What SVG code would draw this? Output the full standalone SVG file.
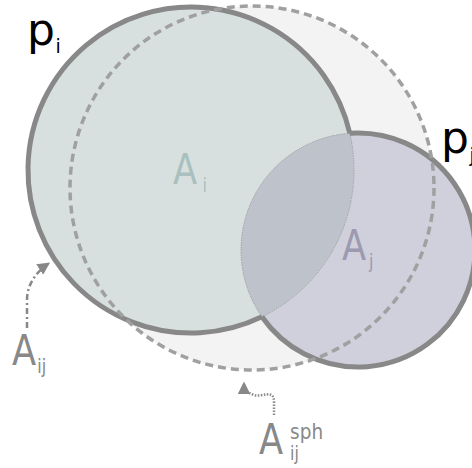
<svg xmlns="http://www.w3.org/2000/svg" width="472" height="468" viewBox="0 0 472 468">
<defs>
<style>
.edge{fill:none;stroke:#888;stroke-width:5}
.lbl{font-family:"DejaVu Sans",sans-serif}
.big{font-size:42px}
.sub{font-size:19px}
.sup{font-size:22px}
.conn{fill:none;stroke:#888;stroke-width:2.5}
</style>
<marker id="ah" viewBox="0 0 10 10" refX="8" refY="5" markerWidth="5" markerHeight="5" orient="auto" markerUnits="strokeWidth">
<path d="M0,0 L10,5 L0,10 z" fill="#888"/>
</marker>
</defs>
<rect width="472" height="468" fill="#fff"/>
<g id="sphere-fill">
<circle cx="252" cy="188" r="182" fill="#f3f3f3"/>
</g>
<g id="node-pi">
<circle cx="191" cy="170" r="163" fill="#d8e0df"/>
</g>
<g id="node-pj">
<circle cx="358" cy="250" r="117" fill="#d0d0dc"/>
</g>
<g id="lens">
<path d="M349.8,133.3 A117,117 0 0 0 261.9,316.8 A163,163 0 0 0 349.8,133.3 Z" fill="#bec2cb" stroke="#999" stroke-width="0.8" stroke-dasharray="1.5,1"/>
</g>
<g id="node-pi-edge">
<path class="edge" d="M349.8,133.3 A163,163 0 1 0 261.9,316.8"/>
</g>
<g id="node-pj-edge">
<path class="edge" d="M349.8,133.3 A117,117 0 1 1 261.9,316.8"/>
</g>
<g id="sphere">
<circle cx="252" cy="188" r="182" fill="none" stroke="#a0a0a0" stroke-width="3.5" stroke-dasharray="8,5"/>
</g>
<g id="connectors">
<path class="conn" d="M27,328 L27,300 C27,285 36,272 48,264" stroke-dasharray="6,3,2,3" marker-end="url(#ah)"/>
<path class="conn" d="M274,415 L274,402 C274,388 262,398 254,395 C246,392 244,390 244,384" stroke-dasharray="1.5,1.5" marker-end="url(#ah)"/>
</g>
<g id="label-pi" class="lbl">
<text x="27" y="45" font-size="44" fill="#000">p<tspan class="sub" x="55.5" y="53">i</tspan></text>
</g>
<g id="label-pj" class="lbl">
<text x="441" y="153" font-size="44" fill="#000">p<tspan class="sub" x="469.5" y="162">j</tspan></text>
</g>
<g id="label-Ai" class="lbl">
<text class="big" transform="translate(173,184) scale(0.84,1)" fill="#a9c0be">A<tspan class="sub" x="35" y="8">i</tspan></text>
</g>
<g id="label-Aj" class="lbl">
<text class="big" transform="translate(342,260) scale(0.84,1)" fill="#9c9ab0">A<tspan class="sub" x="32" y="8">j</tspan></text>
</g>
<g id="label-Aij" class="lbl">
<text class="big" transform="translate(12,365) scale(0.84,1)" fill="#888">A<tspan class="sub" x="30" y="8">ij</tspan></text>
</g>
<g id="label-Asph" class="lbl">
<text class="big" transform="translate(259,454) scale(0.84,1)" fill="#888">A<tspan class="sup" x="37" y="-15">sph</tspan><tspan class="sub" x="37" y="6">ij</tspan></text>
</g>
</svg>
